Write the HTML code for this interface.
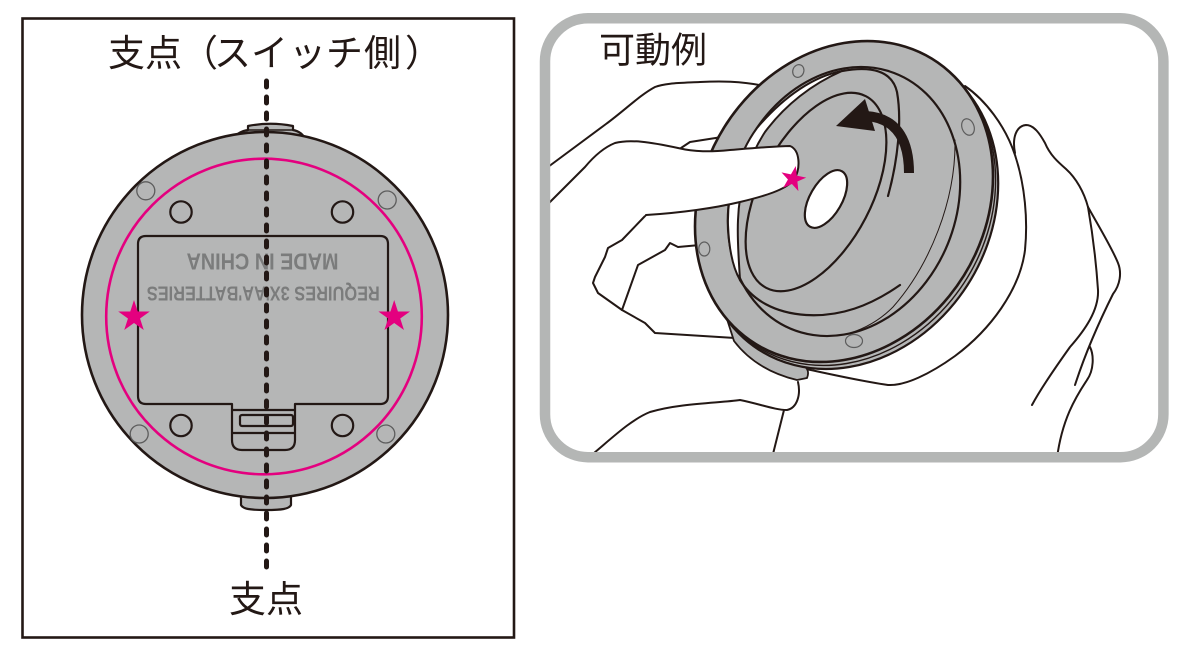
<!DOCTYPE html>
<html><head><meta charset="utf-8">
<style>
html,body{margin:0;padding:0;background:#fff;}
svg{display:block;}
</style></head>
<body>
<svg width="1200" height="650" viewBox="0 0 1200 650" xmlns="http://www.w3.org/2000/svg">
<rect width="1200" height="650" fill="#fff"/>
<defs>
<polygon id="star" points="0,-16.6 3.73,-5.14 15.79,-5.13 6.04,1.96 9.76,13.43 0,6.35 -9.76,13.43 -6.04,1.96 -15.79,-5.13 -3.73,-5.14"/>
</defs>

<!-- ================= LEFT PANEL ================= -->
<rect x="22.5" y="18.5" width="491.5" height="619" fill="none" stroke="#231815" stroke-width="2.6"/>

<g fill="#231815" font-family="Liberation Sans, Noto Sans CJK JP, sans-serif" font-size="37">
  <text x="108 145 181 214 251 289 326 364 405" y="66">支点（スイッチ側）</text>
  <text x="229 266" y="612">支点</text>
</g>

<g stroke="#231815" stroke-width="2.2" fill="#b5b6b6" stroke-linejoin="round">
  <path d="M232,140 C237,133 242,131 248,130 L248,126 C263,123 278,123 293,126 L293,130 C299,131 303,134 306,140 Z"/>
  <path d="M241,490 L241,505 C243,509 250,510 266,510 C282,510 289,509 291,505 L291,490 Z"/>
  <circle cx="265" cy="315" r="183" stroke-width="2.6"/>
</g>
<line x1="248" y1="130" x2="293" y2="130" stroke="#231815" stroke-width="1.5"/>

<circle cx="264" cy="316.5" r="157.8" fill="none" stroke="#e4007f" stroke-width="2.6"/>

<g fill="none" stroke="#231815" stroke-width="2.2" stroke-linejoin="round">
  <path d="M146,236 L380,236 Q388,236 388,244 L388,396 Q388,404 380,404 L295,404 L295,440 Q295,450 285,450 L242,450 Q232,450 232,440 L232,404 L146,404 Q138,404 138,396 L138,244 Q138,236 146,236 Z"/>
  <path d="M232,410 H295 M233,433 H294"/>
  <rect x="240" y="415" width="53" height="11" rx="2"/>
  <circle cx="181" cy="212" r="10.7"/>
  <circle cx="342.5" cy="212" r="10.7"/>
  <circle cx="181" cy="425.5" r="10.7"/>
  <circle cx="342.5" cy="425.5" r="10.7"/>
</g>
<g fill="none" stroke="#5d5d5d" stroke-width="1.3">
  <circle cx="145.8" cy="190.8" r="9"/>
  <circle cx="387.2" cy="200" r="9"/>
  <circle cx="139.2" cy="434" r="9"/>
  <circle cx="385.8" cy="434" r="9"/>
</g>

<g fill="#7b7c7c" font-family="Liberation Sans, sans-serif" font-weight="bold">
  <text x="262.5" y="270" text-anchor="middle" font-size="23" textLength="152" lengthAdjust="spacingAndGlyphs" transform="rotate(180 262.5 261.7)">MADE IN CHINA</text>
  <text x="263.3" y="301.7" text-anchor="middle" font-size="20.5" textLength="233" lengthAdjust="spacingAndGlyphs" transform="rotate(180 263.3 294.2)">REQUIRES 3X'AA'BATTERIES</text>
</g>

<use href="#star" fill="#e4007f" transform="translate(134,316.6)"/>
<use href="#star" fill="#e4007f" transform="translate(394.2,316.6)"/>

<line x1="266.5" y1="81" x2="266.5" y2="570" stroke="#231815" stroke-width="5" stroke-linecap="round" stroke-dasharray="6 10"/>

<!-- ================= RIGHT PANEL ================= -->
<rect x="545" y="18.3" width="618.4" height="438.9" rx="43" fill="#fff"/>

<text x="599 635 671" y="62.5" fill="#231815" font-family="Liberation Sans, Noto Sans CJK JP, sans-serif" font-size="36">可動例</text>

<!-- body + hands behind disc -->
<g stroke="#231815" stroke-width="2" fill="none" stroke-linecap="round" stroke-linejoin="round">
  <path d="M965,86 C985,100 1005,125 1015,155 C1025,185 1028,220 1025,250 C1020,290 990,330 955,356 C930,374 905,386 888,385 C860,381 830,374 806,369"/>
  <path d="M1015,153 C1012,138 1016,126 1026,125 C1034,125 1040,134 1045,143 C1050,155 1058,162 1066,169 C1076,178 1084,192 1088,207"/>
  <path d="M1088,207 C1092,230 1096,260 1098,290 C1099,310 1085,330 1070,347 C1055,368 1040,390 1032,405"/>
  <path d="M1088,207 C1098,225 1112,248 1118,263 C1122,273 1120,285 1113,294 C1105,310 1088,345 1075,385"/>
  <path d="M1090,347 C1094,355 1094,370 1087,380 C1075,398 1062,420 1057,458"/>
  <path d="M548,167 L606,124 C625,110 640,95 655,87 C665,83 680,83 700,82 C720,81 740,81 765,86"/>
  <path d="M681,148 L690,142 L722,137"/>
  <path d="M646,215 L622,240 L608,248 L605,257 L595,277 L593,283 L598,293 L622,310 L645,323 L655,333 L735,338"/>
  <path d="M622,310 L638,265 L665,250 L670,243 L678,247 L700,245"/>
  <path d="M588,458 C610,440 630,420 650,412 C680,403 720,403 740,400 C760,404 775,410 787,410 C797,408 801,395 798,382"/>
  <path d="M784,410 L772,458"/>
</g>

<!-- disc -->
<g stroke="#231815" fill="#b5b6b6" stroke-linejoin="round">
  <path d="M726,316 C743,340 770,355 800,364 Q811,368 807,378 L797,380 C772,374 750,362 734,341 Z" stroke-width="1.8"/>
  <ellipse cx="0" cy="0" rx="1" ry="1" transform="matrix(149,-25,0,158.5,849.2,208.5)" vector-effect="non-scaling-stroke" stroke-width="2.2"/>
  <ellipse cx="0" cy="0" rx="1" ry="1" transform="matrix(149,-25,0,158.5,846.6,205.0)" vector-effect="non-scaling-stroke" stroke-width="1.4" fill="none"/>
  <ellipse cx="0" cy="0" rx="1" ry="1" transform="matrix(149,-25,0,158.5,844,201.5)" vector-effect="non-scaling-stroke" stroke-width="2.6"/>
</g>
<g fill="#b5b6b6" stroke="#5d5d5d" stroke-width="1.2">
  <ellipse cx="798.3" cy="71" rx="5.5" ry="6.5" transform="rotate(20 798.3 71)"/>
  <ellipse cx="968" cy="127" rx="6" ry="8.5" transform="rotate(-20 968 127)"/>
  <ellipse cx="704.3" cy="249" rx="5.5" ry="7"/>
  <ellipse cx="854" cy="341" rx="8.5" ry="6.5"/>
</g>
<g stroke="#231815" fill="none" stroke-linejoin="round" stroke-linecap="round">
  <ellipse cx="0" cy="0" rx="1" ry="1" transform="matrix(116.2,-19.5,0,133.1,844,201.5)" vector-effect="non-scaling-stroke" stroke-width="2.2"/>
  <path d="M842,71 C815,76 785,95 757,128 C737,155 727,195 728,225 C729,250 733,268 740,280 C739,262 737,240 738,220 C739,190 748,158 765,132 C785,105 812,84 842,71 Z" fill="#fff" stroke-width="2"/>
  <path d="M740,280 C752,300 775,313 806,315 C840,317 870,306 900,285" stroke-width="2.2"/>
  <path d="M842,71 C870,66 892,70 897,92 C902,120 898,160 888,196" stroke-width="2.2"/>
  <path d="M955,140 C956,200 930,265 893,307 C880,320 866,328 850,333" stroke-width="1"/>
  <ellipse cx="816" cy="192" rx="56" ry="108" transform="rotate(27.5 816 192)" fill="#b5b6b6" stroke-width="2.2"/>
  <ellipse cx="826" cy="199" rx="16" ry="32" transform="rotate(30 826 199)" fill="#fff" stroke-width="2.2"/>
  <path d="M909,173 C909,145 900,118 866,116" stroke-width="10" stroke-linecap="butt"/>
</g>
<polygon points="836,126 865,99 875,131" fill="#231815"/>

<!-- index finger on top -->
<path d="M550,202 L585,167 C595,155 605,147 615,143 C630,139 650,142 678,148 C695,152 710,152 730,150 C755,148 778,146 790,146 C800,150 801,168 794,180 C785,190 765,196 740,202 C715,208 680,213 646,215 L560,230 Z" fill="#fff"/>
<path d="M548,204 L585,167 C595,155 605,147 615,143 C630,139 650,142 678,148 C695,152 710,152 730,150 C755,148 778,146 790,146 C800,150 801,168 794,180 C785,190 765,196 740,202 C715,208 680,213 646,215" fill="none" stroke="#231815" stroke-width="2" stroke-linejoin="round" stroke-linecap="round"/>

<use href="#star" fill="#e4007f" transform="translate(793,179) rotate(12) scale(0.8)"/>

<!-- border -->
<rect x="545" y="18.3" width="618.4" height="438.9" rx="43" fill="none" stroke="#b4b6b5" stroke-width="10.5"/>
</svg>
</body></html>
